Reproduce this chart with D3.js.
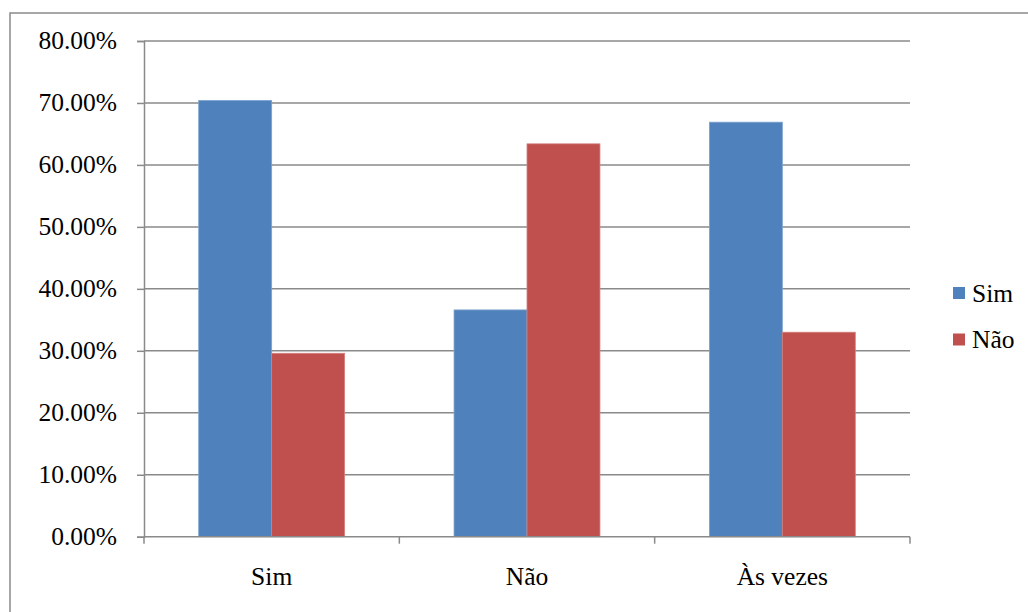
<!DOCTYPE html>
<html>
<head>
<meta charset="utf-8">
<script src="https://cdn.jsdelivr.net/npm/d3@7"></script>
<style>
  html, body { margin: 0; padding: 0; background: #fff; }
  svg { display: block; }
</style>
</head>
<body>
<svg id="chart" width="1028" height="612"></svg>
<script>
// Answers per category, as shares of respondents
const categories = ["Sim", "Não", "Às vezes"];
const seriesNames = ["Sim", "Não"];
const simValues = [0.704, 0.366, 0.669];
const naoValues = [0.296, 0.634, 0.330];
const yTicks = [0, 0.1, 0.2, 0.3, 0.4, 0.5, 0.6, 0.7, 0.8];
const colors = ["#4F81BD", "#C0504D"];
const strokes = ["#7EA2CE", "#D27F7D"];

const rows = categories.map((c, i) => ({ category: c, values: [simValues[i], naoValues[i]] }));

const FONT = "Liberation Serif";
const FONT_SIZE = "25.5px";

const svg = d3.select("#chart");
const plot = { left: 144, right: 910, top: 41, bottom: 536.7 };
const gridColor = "#8A8A8A";

// Outer chart frame
svg.append("rect")
  .attr("x", 10).attr("y", 13)
  .attr("width", 1030).attr("height", 620)
  .attr("fill", "none").attr("stroke", gridColor).attr("stroke-width", 1.5);

const y = d3.scaleLinear().domain([0, 0.8]).range([plot.bottom, plot.top]);
const x0 = d3.scaleBand().domain(categories).range([plot.left, plot.right]).padding(0);
const x1 = d3.scaleBand().domain(seriesNames).range([0, x0.bandwidth()])
  .paddingInner(0).paddingOuter(0.75);

// Horizontal gridlines
svg.append("g").selectAll("line")
  .data(yTicks.filter(t => t > 0))
  .join("line")
  .attr("x1", plot.left).attr("x2", plot.right)
  .attr("y1", d => y(d)).attr("y2", d => y(d))
  .attr("stroke", gridColor).attr("stroke-width", 1.5);

// Bars
const groups = svg.append("g").selectAll("g")
  .data(rows)
  .join("g")
  .attr("transform", d => `translate(${x0(d.category)},0)`);

groups.selectAll("rect")
  .data(d => d.values.map((v, k) => ({ series: seriesNames[k], k, v })))
  .join("rect")
  .attr("x", d => x1(d.series))
  .attr("width", x1.bandwidth())
  .attr("y", d => y(d.v))
  .attr("height", d => y(0) - y(d.v))
  .attr("fill", d => colors[d.k])
  .attr("stroke", d => strokes[d.k])
  .attr("stroke-width", 0.8);

// Y axis line and ticks
const yAxis = d3.axisLeft(y).tickValues(yTicks).tickSize(7).tickFormat("");
const gy = svg.append("g").attr("transform", `translate(${plot.left},0)`).call(yAxis);
gy.select(".domain").attr("stroke", gridColor).attr("stroke-width", 1.5);
gy.selectAll(".tick line").attr("stroke", gridColor).attr("stroke-width", 1.5);

// Y tick labels
const fmt = d => (d * 100).toFixed(2) + "%";
svg.append("g").selectAll("text")
  .data(yTicks)
  .join("text")
  .attr("x", plot.left - 27)
  .attr("y", d => y(d))
  .attr("dy", "0.33em")
  .attr("text-anchor", "end")
  .style("font-family", FONT)
  .style("font-size", FONT_SIZE)
  .text(fmt);

// X axis: ticks at category boundaries
const boundaries = [plot.left].concat(categories.map(c => x0(c) + x0.bandwidth()));
const gx = svg.append("g");
gx.append("line")
  .attr("x1", plot.left).attr("x2", plot.right)
  .attr("y1", plot.bottom).attr("y2", plot.bottom)
  .attr("stroke", gridColor).attr("stroke-width", 1.5);
gx.selectAll("line.tk")
  .data(boundaries)
  .join("line").attr("class", "tk")
  .attr("x1", d => d).attr("x2", d => d)
  .attr("y1", plot.bottom).attr("y2", plot.bottom + 7)
  .attr("stroke", gridColor).attr("stroke-width", 1.5);
gx.selectAll("text")
  .data(categories)
  .join("text")
  .attr("x", d => x0(d) + x0.bandwidth() / 2)
  .attr("y", 585)
  .attr("text-anchor", "middle")
  .style("font-family", FONT)
  .style("font-size", FONT_SIZE)
  .text(d => d);

// Legend
const legend = svg.append("g").selectAll("g")
  .data(seriesNames)
  .join("g")
  .attr("transform", (d, i) => `translate(953,${287 + i * 46.5})`);
legend.append("rect")
  .attr("width", 12).attr("height", 12)
  .attr("fill", (d, i) => colors[i]);
legend.append("text")
  .attr("x", 19).attr("y", 14.5)
  .style("font-family", FONT)
  .style("font-size", FONT_SIZE)
  .text(d => d);
</script>
</body>
</html>
